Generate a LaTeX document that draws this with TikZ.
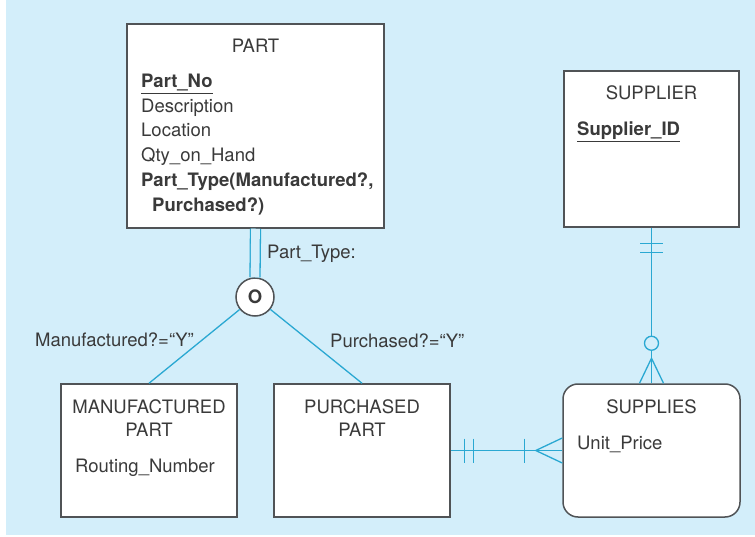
\documentclass[tikz,border=0pt]{standalone}
\usepackage{fontspec}
\setmainfont{TeX Gyre Heros}
\usetikzlibrary{calc}
\definecolor{bgblue}{HTML}{D3EEFA}
\definecolor{relblue}{HTML}{2AA8D2}
\definecolor{boxgray}{HTML}{505356}
\definecolor{txtgray}{HTML}{3A3A3A}
\tikzset{
    entity/.style={draw=boxgray, line width=1.5pt, fill=white, inner sep=0pt},
    conn/.style={draw=relblue, line width=1.3pt},
    lbl/.style={text=txtgray, inner sep=0pt, font=\fontsize{18.5}{24}\selectfont},
}
\begin{document}
\begin{tikzpicture}[x=1pt,y=-1pt]

    \useasboundingbox (0,0) rectangle (755,537);
    \fill[bgblue] (6,0) rectangle (755,535);

    %entities
    \node[entity, minimum width=257pt, minimum height=204pt] (part) at (255.5,126) {};
    \node[entity, minimum width=175pt, minimum height=156pt] (supplier) at (651.5,149) {};
    \node[entity, minimum width=176pt, minimum height=133pt] (mfg) at (149,450.5) {};
    \node[entity, minimum width=176pt, minimum height=133pt] (purch) at (362,450.5) {};
    \node[entity, rounded corners=15pt, minimum width=177pt, minimum height=133pt] (supplies) at (651.5,450.5) {};
    \node[entity, circle, minimum size=38pt] (dsc) at (255,297) {};
    \node[lbl] (dscmark) at (dsc) {\bfseries O};

    %PART
    \node[lbl, anchor=base] (parttitle) at (255.5,53) {PART};
    \node[lbl, anchor=base west] (partno) at (141,88) {\underline{\bfseries Part\_No}};
    \node[lbl, anchor=base west] (partdesc) at (141,112.7) {Description};
    \node[lbl, anchor=base west] (partloc) at (141,136.7) {Location};
    \node[lbl, anchor=base west] (partqty) at (141,161.7) {Qty\_on\_Hand};
    \node[lbl, anchor=base west] (parttype) at (141,186.7) {\bfseries Part\_Type(Manufactured?,};
    \node[lbl, anchor=base west] (parttypeb) at (152,211.7) {\bfseries Purchased?)};

    %SUPPLIER
    \node[lbl, anchor=base] (suptitle) at (651.5,100) {SUPPLIER};
    \node[lbl, anchor=base west] (supid) at (577,136) {\underline{\bfseries Supplier\_ID}};

    %subtypes
    \node[lbl, anchor=base] (mfgtitle) at (149,413.3) {MANUFACTURED};
    \node[lbl, anchor=base] (mfgtitleb) at (149,436.7) {PART};
    \node[lbl, anchor=base west] (mfgroute) at (75,472.7) {Routing\_Number};
    \node[lbl, anchor=base] (purchtitle) at (362,413.3) {PURCHASED};
    \node[lbl, anchor=base] (purchtitleb) at (362,436.7) {PART};

    %SUPPLIES
    \node[lbl, anchor=base] (supstitle) at (651.5,413.3) {SUPPLIES};
    \node[lbl, anchor=base west] (supsprice) at (577,449.3) {Unit\_Price};

    %subtype labels
    \node[lbl, anchor=base west] (typelbl) at (267,259) {Part\_Type:};
    \node[lbl, anchor=base west] (mfglbl) at (35,346.7) {Manufactured?=``Y''};
    \node[lbl, anchor=base west] (purchlbl) at (330,347) {Purchased?=``Y''};

    %disjoint subtypes
    \draw[conn, double=bgblue, double distance=8.7pt] (part.south) -- (dsc.north);
    \draw[conn] (dsc) -- (mfg.north);
    \draw[conn] (dsc) -- (purch.north);

    %supplier -- supplies
    \draw[conn] (supplier.south) -- (supplies.north);
    \foreach \d in {16,25} {
        \draw[conn] ($(supplier.south)+(-11.5,\d)$) -- ++(23,0);
    }
    \draw[conn, fill=bgblue] ($(supplies.north)+(0,-40)$) circle (7pt);
    \draw[conn] ($(supplies.north)+(-12,0)$) -- ($(supplies.north)+(0,-25)$) -- ($(supplies.north)+(12,0)$);

    %purchased part -- supplies
    \draw[conn] (purch.east) -- (supplies.west);
    \foreach \d in {14,23} {
        \draw[conn] ($(purch.east)+(\d,-12)$) -- ++(0,24);
    }
    \draw[conn] ($(supplies.west)+(-38,-12)$) -- ++(0,24);
    \draw[conn] ($(supplies.west)+(0,-12.5)$) -- ($(supplies.west)+(-26.5,0)$) -- ($(supplies.west)+(0,12.5)$);

\end{tikzpicture}
\end{document}
